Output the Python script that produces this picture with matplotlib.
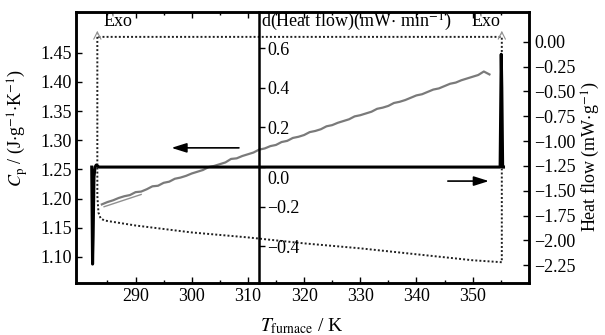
import numpy as np
import matplotlib.pyplot as plt
from matplotlib.transforms import ScaledTranslation

plt.rcParams["font.family"] = ["Liberation Serif", "DejaVu Serif"]
plt.rcParams["mathtext.fontset"] = "stix"
plt.rcParams["font.size"] = 13

# Cp measured (grey, left axis)
cp_T = list(range(284, 354))
cp_val = [1.190, 1.194, 1.197, 1.201, 1.204, 1.206, 1.211, 1.212, 1.216, 1.221,
          1.222, 1.227, 1.229, 1.234, 1.236, 1.239, 1.243, 1.246, 1.249, 1.254,
          1.256, 1.259, 1.262, 1.268, 1.269, 1.273, 1.276, 1.279, 1.284, 1.286,
          1.290, 1.292, 1.297, 1.299, 1.304, 1.306, 1.309, 1.314, 1.316, 1.319,
          1.324, 1.326, 1.330, 1.333, 1.336, 1.341, 1.343, 1.346, 1.349, 1.354,
          1.356, 1.359, 1.364, 1.366, 1.369, 1.373, 1.377, 1.379, 1.383, 1.387,
          1.389, 1.393, 1.397, 1.399, 1.403, 1.406, 1.409, 1.412, 1.418, 1.413]
# short smooth Cp line under the start of the measured one
cp_fit_T = [284.4, 291.0]
cp_fit_val = [1.186, 1.207]

# heat flow loop (dotted, right axis)
hf_T = [283.2, 283.2, 283.4, 283.8, 284.5, 290.0, 300.0, 310.0, 320.0, 330.0,
        340.0, 350.0, 355.2, 355.2, 283.2]
hf_val = [0.05, -1.55, -1.72, -1.78, -1.80, -1.85, -1.92, -1.97, -2.03, -2.08,
          -2.14, -2.20, -2.22, 0.05, 0.05]

# derivative of heat flow (black, middle axis)
dhf_T = [282.2, 282.35, 282.45, 282.6, 282.8, 283.0, 283.5, 290.0, 300.0, 310.0,
         320.0, 330.0, 340.0, 350.0, 354.9, 355.1, 355.2, 355.35, 355.5]
dhf_val = [0.0, -0.49, -0.35, -0.05, 0.0, 0.01, 0.0, 0.0, 0.0, 0.0,
           0.0, 0.0, 0.0, 0.0, 0.0, 0.57, 0.40, 0.0, 0.0]

fig = plt.figure(figsize=(6.05, 3.35), dpi=100)
ax = fig.add_axes([0.1256, 0.155, 0.7484, 0.809])
ax2 = ax.twinx()
ax3 = ax.twinx()

ax.plot(cp_fit_T, cp_fit_val, color="#909090", lw=1.0)
ax.plot(cp_T, cp_val, color="#7a7a7a", lw=1.6)
ax2.plot(hf_T, hf_val, color="#202020", lw=1.4, ls=(0, (1, 1.1)))
ax3.plot(dhf_T, dhf_val, color="black", lw=2.2)

ax.set_xlim(279.4, 360)
ax.set_ylim(1.055, 1.52)
ax2.set_ylim(-2.43, 0.30)
ax3.set_ylim(-0.586, 0.783)

ax.set_xticks([290, 300, 310, 320, 330, 340, 350])
ax.set_xticks(np.arange(285, 360, 5), minor=True)
ax.set_yticks([1.10, 1.15, 1.20, 1.25, 1.30, 1.35, 1.40, 1.45])
ax2.set_yticks([0.0, -0.25, -0.5, -0.75, -1.0, -1.25, -1.5, -1.75, -2.0, -2.25])
ax3.set_yticks([0.6, 0.4, 0.2, 0.0, -0.2, -0.4])
ax.yaxis.set_major_formatter(plt.FormatStrFormatter("%.2f"))
ax2.yaxis.set_major_formatter(plt.FuncFormatter(lambda v, p: ("%.2f" % v).replace("-", "\u2212")))
ax3.yaxis.set_major_formatter(plt.FuncFormatter(lambda v, p: ("%.1f" % v).replace("-", "\u2212")))

ax.tick_params(which="both", direction="in", top=True, length=4, width=1)
ax.tick_params(which="minor", length=2.5)
ax.tick_params(axis="y", pad=3)
ax2.tick_params(direction="in", length=4, width=1, pad=4)
ax3.tick_params(direction="out", length=4, width=1, pad=2)

for sp in ax.spines.values():
    sp.set_linewidth(1.8)
for sp in ax2.spines.values():
    sp.set_linewidth(1.8)
for name in ["top", "bottom", "left"]:
    ax3.spines[name].set_visible(False)
ax3.spines["right"].set_position(("data", 311.9))
ax3.spines["right"].set_linewidth(1.8)

# the 0.0 label of the middle axis sits below the black line
fig.canvas.draw()
zero_lab = ax3.get_yticklabels()[3]
zero_lab.set_transform(zero_lab.get_transform() + ScaledTranslation(0, -0.1, fig.dpi_scale_trans))

ax.set_ylabel("$C_\\mathrm{p}$ / (J$\\cdot$g$^{-1}$$\\cdot$K$^{-1}$)")
ax.yaxis.set_label_coords(-0.1015, 0.572)
ax2.set_ylabel("Heat flow (mW$\\cdot$g$^{-1}$)")
ax2.yaxis.set_label_coords(1.113, 0.465)
ax.set_xlabel("$T_\\mathrm{furnace}$ / K", fontsize=14, labelpad=8)

ax2.annotate("", xy=(283.2, 0.14), xytext=(283.2, 0.05),
             arrowprops=dict(arrowstyle="->", color="#909090", lw=0.8))
ax2.annotate("", xy=(355.2, 0.14), xytext=(355.2, 0.05),
             arrowprops=dict(arrowstyle="->", color="#909090", lw=0.8))
ax2.text(284.3, 0.20, "Exo", va="center", ha="left")
ax2.text(354.9, 0.20, "Exo", va="center", ha="right")
ax2.text(312.4, 0.20, "d(Heat flow)(mW$\\cdot$ min$^{-1}$)", va="center", ha="left")

ax.annotate("", xy=(295.9, 1.287), xytext=(308.9, 1.287),
            arrowprops=dict(arrowstyle="-|>,head_length=0.7,head_width=0.22", color="black", lw=1.2))
ax.annotate("", xy=(353.4, 1.230), xytext=(345.1, 1.230),
            arrowprops=dict(arrowstyle="-|>,head_length=0.7,head_width=0.22", color="black", lw=1.2))

fig.savefig("out.png", dpi=100)
